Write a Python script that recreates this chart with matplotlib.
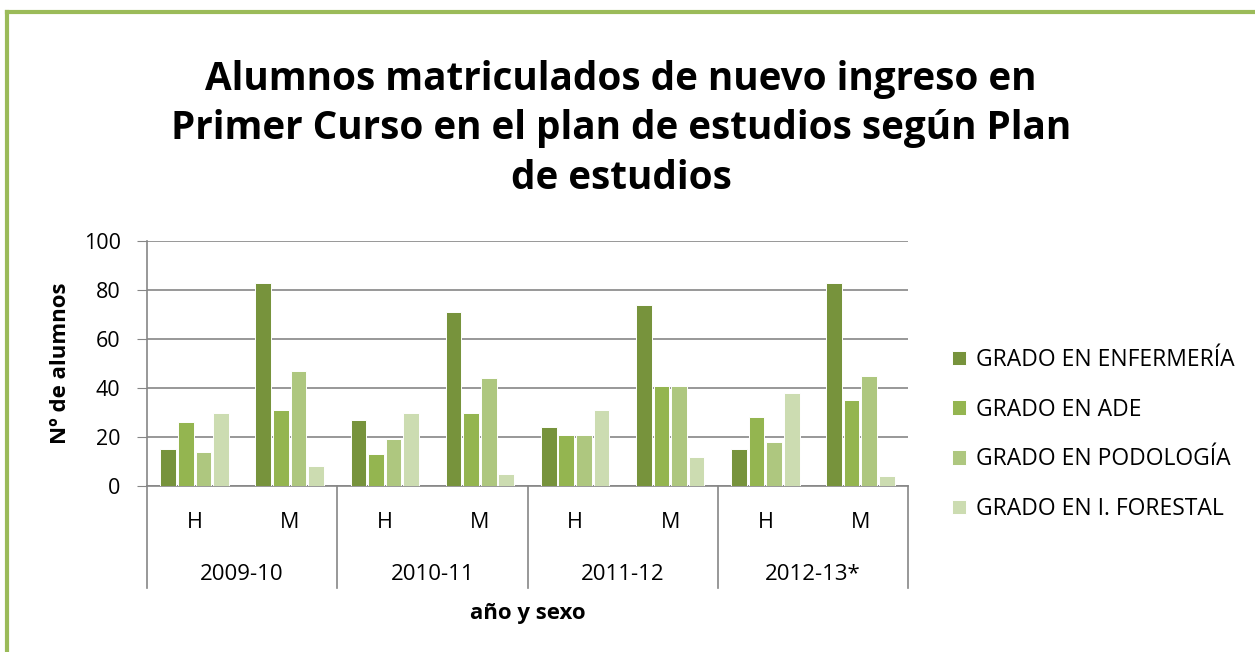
import matplotlib.pyplot as plt
from matplotlib.lines import Line2D
import matplotlib.transforms as mtransforms
import numpy as np

plt.rcParams['font.family'] = ['Open Sans', 'DejaVu Sans']

years = ['2009-10', '2010-11', '2011-12', '2012-13*']
sexes = ['H', 'M']
series = ['GRADO EN ENFERMERÍA', 'GRADO EN ADE', 'GRADO EN PODOLOGÍA', 'GRADO EN I. FORESTAL']
enfermeria = [15, 83, 27, 71, 24, 74, 15, 83]
ade = [26, 31, 13, 30, 21, 41, 28, 35]
podologia = [14, 47, 19, 44, 21, 41, 18, 45]
forestal = [30, 8, 30, 5, 31, 12, 38, 4]
colors = ['#77933C', '#94B550', '#AEC77F', '#CCDCB1']

fig = plt.figure(figsize=(12.55, 6.52), dpi=100)
ax = fig.add_axes([147 / 1255, 1 - 486 / 652, (908 - 147) / 1255, 245 / 652])

x = np.arange(len(years) * len(sexes))
step = 0.185
w = 0.165
for i, (vals, name) in enumerate(zip([enfermeria, ade, podologia, forestal], series)):
    ax.bar(x + (i - 1.5) * step, vals, w, color=colors[i], label=name,
           edgecolor='white', linewidth=0.7, zorder=3)

ax.set_ylim(0, 100)
ax.set_xlim(-0.5, len(x) - 0.5)
ax.set_yticks(range(0, 101, 20))
ax.tick_params(axis='y', labelsize=15.5, length=7, color='#868686', pad=12)
ax.tick_params(axis='x', bottom=False, labelbottom=False)
ax.grid(axis='y', color='#868686', linewidth=1.2, zorder=0)
for s in ['top', 'right']:
    ax.spines[s].set_visible(False)
for s in ['left', 'bottom']:
    ax.spines[s].set_color('#868686')
    ax.spines[s].set_linewidth(1.2)

# etiquetas jerárquicas del eje x
trans = mtransforms.blended_transform_factory(ax.transData, ax.transAxes)
for k in range(len(x)):
    ax.text(x[k], -36 / 245, sexes[k % 2], transform=trans, ha='center', va='center', fontsize=15.5)
for j, yr in enumerate(years):
    ax.text(2 * j + 0.5, -88 / 245, yr, transform=trans, ha='center', va='center', fontsize=16)
for b in np.arange(-0.5, len(x), 2):
    ax.plot([b, b], [0, -102 / 245], transform=trans, color='#868686', linewidth=1.2, clip_on=False)

ax.set_ylabel('Nº de alumnos', fontsize=16, fontweight='bold', labelpad=9)
ax.text(0.5, -128 / 245, 'año y sexo', transform=ax.transAxes, ha='center', va='center',
        fontsize=16, fontweight='bold')

fig.text(0.495, 1 - 129 / 652, 'Alumnos matriculados de nuevo ingreso en\nPrimer Curso en el plan de estudios según Plan\nde estudios',
         ha='center', va='center', fontsize=27.8, fontweight='bold', linespacing=1.36)

leg = ax.legend(loc='center left', bbox_to_anchor=(1.058, 0.21), frameon=False, fontsize=16.5,
                handlelength=0.6, handleheight=0.6, handletextpad=0.45, labelspacing=1.12,
                borderpad=0, borderaxespad=0)

# marco verde
fig.add_artist(Line2D([7 / 1255, 7 / 1255], [0, 1 - 12 / 652], color='#9BBB59', linewidth=3))
fig.add_artist(Line2D([7 / 1255, 1], [1 - 12 / 652, 1 - 12 / 652], color='#9BBB59', linewidth=3))

fig.savefig('out.png', dpi=100)
